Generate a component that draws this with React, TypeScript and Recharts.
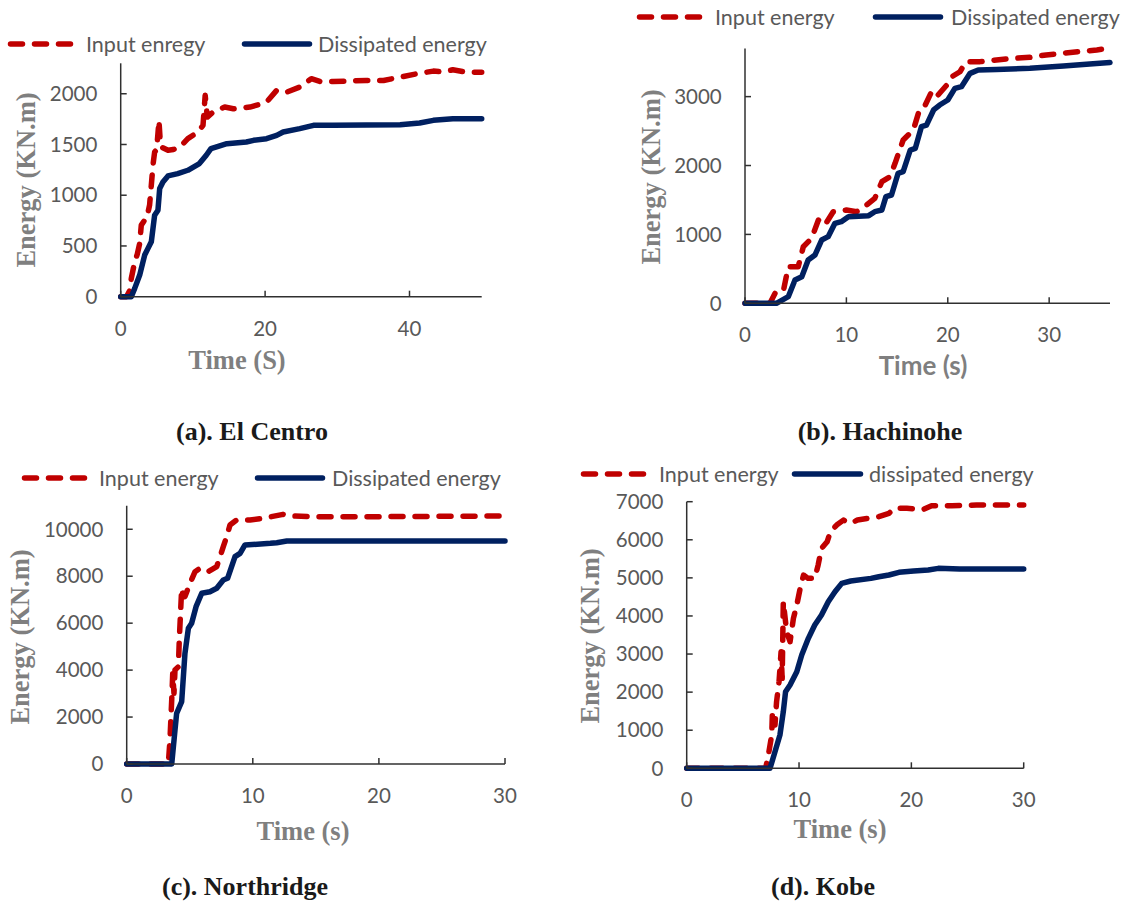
import React from 'react';
import { LineChart, Line, XAxis, YAxis, Legend } from 'recharts';

type Pt = { t: number; e: number };
const pts = (a: number[][]): Pt[] => a.map(([t, e]) => ({ t, e }));

// ---------- (a) El Centro ----------
const elCentroInput = pts([
  [0, 0], [0.8, 0], [1.24, 60], [1.47, 181], [1.94, 344], [2.3, 420], [2.63, 525], [2.85, 705],
  [3.32, 754], [3.6, 770], [4.0, 902], [4.24, 1099], [4.47, 1296], [4.7, 1426], [4.98, 1450],
  [5.15, 1600], [5.3, 1738], [5.45, 1560], [5.62, 1475], [6.55, 1443], [7.3, 1450], [8.2, 1475],
  [9.3, 1558], [10.7, 1623], [11.4, 1689], [11.7, 1984], [12.0, 1770], [12.8, 1820], [14.4, 1869],
  [15.6, 1852], [17.9, 1869], [19.5, 1900], [20.2, 1918], [21.6, 2033], [23.0, 2016], [24.8, 2066],
  [26.4, 2148], [27.6, 2121], [29.4, 2121], [34.0, 2131], [36.4, 2131], [38.7, 2164], [41.0, 2197],
  [43.3, 2223], [44.7, 2215], [46.0, 2236], [47.9, 2213], [50, 2213],
]);
const elCentroDissipated = pts([
  [0, 0], [1.47, 0], [1.94, 82], [2.63, 213], [3.32, 410], [3.78, 476], [4.24, 541], [4.7, 803],
  [5.16, 853], [5.4, 1066], [5.85, 1131], [6.55, 1190], [7.9, 1213], [9.3, 1246], [10.9, 1312],
  [11.85, 1394], [12.5, 1459], [13.5, 1482], [14.7, 1508], [17.4, 1525], [18.4, 1541], [20.2, 1557],
  [21.6, 1590], [22.5, 1623], [24.8, 1656], [26.7, 1689], [29.4, 1689], [38.7, 1695], [41.4, 1711],
  [43.3, 1738], [46, 1754], [50, 1754],
]);
const elCentroXTicks = [0, 20, 40];
const elCentroYTicks = [0, 500, 1000, 1500, 2000];

// ---------- (b) Hachinohe ----------
const hachinoheInput = pts([
  [0, 0], [2.46, 0], [2.96, 145], [3.77, 169], [4.27, 531], [5.25, 531], [5.75, 821], [6.57, 943],
  [7.24, 1209], [7.88, 1136], [8.7, 1330], [10.0, 1354], [11.0, 1330], [12.0, 1427], [12.8, 1524],
  [13.5, 1765], [14.3, 1838], [14.8, 2032], [15.6, 2370], [16.6, 2515], [17.2, 2806], [17.7, 2854],
  [18.4, 3071], [18.9, 2999], [19.9, 3168], [20.4, 3289], [21.2, 3361], [21.8, 3507], [23.2, 3508],
  [24.8, 3532], [26.45, 3557], [28.1, 3571], [29.7, 3605], [31.4, 3629], [33.0, 3653], [34.7, 3678],
  [35.2, 3687],
]);
const hachinoheDissipated = pts([
  [0, 0], [3.1, 0], [4.27, 96], [4.93, 338], [5.6, 386], [6.23, 628], [6.9, 701], [7.56, 918],
  [8.2, 967], [8.87, 1161], [9.5, 1185], [10.2, 1257], [12.2, 1272], [12.8, 1330], [13.5, 1354],
  [13.9, 1548], [14.45, 1572], [15.1, 1887], [15.6, 1911], [16.3, 2225], [16.8, 2249], [17.4, 2563],
  [17.9, 2587], [18.6, 2806], [19.2, 2878], [20.0, 2951], [20.7, 3120], [21.35, 3144], [22.2, 3338],
  [23.0, 3386], [24.8, 3395], [28.1, 3411], [31.4, 3445], [34.0, 3474], [36, 3494],
]);
const hachinoheXTicks = [0, 10, 20, 30];
const hachinoheYTicks = [0, 1000, 2000, 3000];

// ---------- (c) Northridge ----------
const northridgeInput = pts([
  [0, 0], [3.3, 0], [3.43, 1023], [3.57, 2727], [3.65, 3864], [3.75, 3010], [3.83, 4005], [4.1, 4146],
  [4.17, 5283], [4.28, 6562], [4.36, 7486], [4.5, 7128], [4.62, 7130], [5.02, 7699], [5.42, 8194],
  [5.81, 8337], [6.47, 8194], [7.14, 8407], [7.4, 8833], [7.66, 9259], [7.93, 9685], [8.19, 10183],
  [8.72, 10396], [9.78, 10396], [10.8, 10467], [12.4, 10636], [13.2, 10565], [15.1, 10536],
  [19.0, 10536], [30, 10565],
]);
const northridgeDissipated = pts([
  [0, 0], [3.57, 0], [3.83, 1449], [3.96, 2160], [4.36, 2655], [4.62, 4717], [4.89, 5782],
  [5.15, 5995], [5.5, 6702], [5.95, 7273], [6.6, 7341], [7.14, 7486], [7.66, 7840], [8.0, 7911],
  [8.59, 8833], [8.99, 8975], [9.38, 9331], [11.4, 9400], [11.9, 9429], [12.7, 9500], [30, 9500],
]);
const northridgeXTicks = [0, 10, 20, 30];
const northridgeYTicks = [0, 2000, 4000, 6000, 8000, 10000];

// ---------- (d) Kobe ----------
const kobeInput = pts([
  [0, 0], [7.03, 0], [7.27, 349], [7.57, 874], [7.63, 1486], [7.86, 1137], [8.0, 1748], [8.22, 2273],
  [8.4, 3060], [8.5, 2362], [8.6, 4373], [8.9, 3585], [9.2, 3323], [9.5, 3937], [9.8, 4286],
  [10.1, 4724], [10.4, 5073], [10.8, 4987], [11.4, 4987], [11.7, 5336], [12.0, 5774], [12.5, 5948],
  [12.8, 6210], [13.35, 6386], [13.95, 6517], [14.6, 6431], [15.2, 6519], [16.1, 6562], [17.1, 6606],
  [18.0, 6694], [18.5, 6825], [19.6, 6825], [21.1, 6800], [21.8, 6895], [23.6, 6895], [25.8, 6912],
  [30, 6912],
]);
const kobeDissipated = pts([
  [0, 0], [7.42, 0], [7.86, 436], [8.3, 874], [8.6, 1486], [8.8, 2011], [9.2, 2186], [9.8, 2535],
  [10.24, 2974], [10.83, 3412], [11.4, 3761], [12.0, 4024], [12.6, 4373], [13.2, 4635], [13.8, 4856],
  [14.6, 4917], [16.4, 4987], [17.1, 5031], [18.0, 5075], [18.9, 5145], [20.2, 5180], [21.5, 5206],
  [22.4, 5250], [24.3, 5232], [30, 5232],
]);
const kobeXTicks = [0, 10, 20, 30];
const kobeYTicks = [0, 1000, 2000, 3000, 4000, 5000, 6000, 7000];

// ---------- styling ----------
const SANS = "Lato, 'Open Sans', 'DejaVu Sans', sans-serif";
const SERIF = "'Liberation Serif', 'Times New Roman', serif";
const TICK_COLOR = '#595959';
const TITLE_COLOR = '#7f7f7f';
const AXIS_COLOR = '#303030';
const RED = '#C00000';
const BLUE = '#002060';
const DASH = '12 12';
const LW = 5.5;
const XH = 60;

type Panel = {
  box: { left: number; top: number; w: number; h: number };
  plot: { l: number; r: number; t: number; b: number };
  xDomain: number[];
  xTicks: number[];
  yDomain: number[];
  yTicks: number[];
  input: Pt[];
  diss: Pt[];
  inputName: string;
  dissName: string;
  legend: { y: number; items: { x1: number; x2: number; tx: number }[] };
  xTitle: { text: string; x: number; y: number; serif: boolean };
  yTitle: { x: number; y: number };
  caption: { text: string; x: number; y: number };
};

const panels: Panel[] = [
  {
    box: { left: 0, top: 0, w: 560, h: 455 },
    plot: { l: 120.7, r: 481.7, t: 63.3, b: 296.7 },
    xDomain: [0, 50], xTicks: elCentroXTicks, yDomain: [0, 2300], yTicks: elCentroYTicks,
    input: elCentroInput, diss: elCentroDissipated,
    inputName: 'Input enregy', dissName: 'Dissipated energy',
    legend: { y: 44, items: [{ x1: 8, x2: 80, tx: 86 }, { x1: 242, x2: 312, tx: 318 }] },
    xTitle: { text: 'Time (S)', x: 237, y: 369, serif: true },
    yTitle: { x: 35, y: 180 },
    caption: { text: '(a). El Centro', x: 252, y: 440 },
  },
  {
    box: { left: 563, top: 0, w: 564, h: 455 },
    plot: { l: 745, r: 1110, t: 48.4, b: 303.3 },
    xDomain: [0, 36], xTicks: hachinoheXTicks, yDomain: [0, 3700], yTicks: hachinoheYTicks,
    input: hachinoheInput, diss: hachinoheDissipated,
    inputName: 'Input energy', dissName: 'Dissipated energy',
    legend: { y: 17, items: [{ x1: 637, x2: 708, tx: 715 }, { x1: 873, x2: 943, tx: 951 }] },
    xTitle: { text: 'Time (s)', x: 923, y: 375, serif: false },
    yTitle: { x: 660, y: 177 },
    caption: { text: '(b). Hachinohe', x: 880, y: 440 },
  },
  {
    box: { left: 0, top: 455, w: 563, h: 452 },
    plot: { l: 126.7, r: 505, t: 505.8, b: 764 },
    xDomain: [0, 30], xTicks: northridgeXTicks, yDomain: [0, 11000], yTicks: northridgeYTicks,
    input: northridgeInput, diss: northridgeDissipated,
    inputName: 'Input energy', dissName: 'Dissipated energy',
    legend: { y: 478, items: [{ x1: 22, x2: 93, tx: 99 }, { x1: 255, x2: 325, tx: 332 }] },
    xTitle: { text: 'Time (s)', x: 303, y: 840, serif: true },
    yTitle: { x: 28.5, y: 637 },
    caption: { text: '(c). Northridge', x: 245, y: 895 },
  },
  {
    box: { left: 563, top: 455, w: 564, h: 452 },
    plot: { l: 686.7, r: 1023.7, t: 501.7, b: 768.3 },
    xDomain: [0, 30], xTicks: kobeXTicks, yDomain: [0, 7000], yTicks: kobeYTicks,
    input: kobeInput, diss: kobeDissipated,
    inputName: 'Input energy', dissName: 'dissipated energy',
    legend: { y: 474, items: [{ x1: 581, x2: 653, tx: 659 }, { x1: 792, x2: 863, tx: 869 }] },
    xTitle: { text: 'Time (s)', x: 840, y: 838, serif: true },
    yTitle: { x: 599, y: 636 },
    caption: { text: '(d). Kobe', x: 823, y: 895 },
  },
];

const seriesStyle = [
  { stroke: RED, strokeDasharray: DASH as string | undefined },
  { stroke: BLUE, strokeDasharray: undefined as string | undefined },
];

function EnergyPanel({ p }: { p: Panel }) {
  const { box, plot } = p;
  const ox = box.left;
  const oy = box.top;
  const margin = {
    top: plot.t - oy,
    right: ox + box.w - plot.r,
    bottom: oy + box.h - plot.b - XH,
    left: 0,
  };
  const yW = plot.l - ox;
  const tickStyle = { fill: TICK_COLOR, fontSize: 20.5, fontFamily: SANS };

  const legendContent = (props: any) => {
    const payload: any[] = props.payload || [];
    return (
      <svg width={box.w} height={30} style={{ display: 'block', overflow: 'visible' }}>
        {payload.map((entry: any) => {
          const i = entry.value === p.inputName ? 0 : 1;
          const it = p.legend.items[i];
          const st = seriesStyle[i];
          return (
            <g key={entry.value}>
              <line
                x1={it.x1 - ox + 2.5}
                x2={it.x2 - ox - 2.5}
                y1={15}
                y2={15}
                stroke={st.stroke}
                strokeWidth={LW}
                strokeDasharray={st.strokeDasharray}
                strokeLinecap="round"
              />
              <text
                x={it.tx - ox}
                y={15}
                dy="0.36em"
                fill={TICK_COLOR}
                fontSize={21.5}
                fontFamily={SANS}
              >
                {entry.value}
              </text>
            </g>
          );
        })}
      </svg>
    );
  };

  const xLabel = () => (
    <g>
      <text
        x={p.xTitle.x - ox}
        y={p.xTitle.y - oy}
        textAnchor="middle"
        fill={TITLE_COLOR}
        fontSize={p.xTitle.serif ? 26.5 : 26}
        fontWeight="bold"
        fontFamily={p.xTitle.serif ? SERIF : SANS}
      >
        {p.xTitle.text}
      </text>
      <text
        x={p.caption.x - ox}
        y={p.caption.y - oy}
        textAnchor="middle"
        fill="#1a1a1a"
        fontSize={26}
        fontWeight="bold"
        fontFamily={SERIF}
      >
        {p.caption.text}
      </text>
    </g>
  );

  const yLabel = () => (
    <text
      transform={`translate(${p.yTitle.x - ox},${p.yTitle.y - oy}) rotate(-90)`}
      textAnchor="middle"
      fill={TITLE_COLOR}
      fontSize={26.5}
      fontWeight="bold"
      fontFamily={SERIF}
    >
      Energy (KN.m)
    </text>
  );

  return (
    <div style={{ position: 'absolute', left: ox, top: oy, width: box.w, height: box.h }}>
      <LineChart width={box.w} height={box.h} margin={margin}>
        <XAxis
          type="number"
          dataKey="t"
          domain={p.xDomain}
          ticks={p.xTicks}
          interval={0}
          height={XH}
          tickSize={-6}
          tickMargin={30.5}
          axisLine={{ stroke: AXIS_COLOR, strokeWidth: 1.5 }}
          tickLine={{ stroke: AXIS_COLOR, strokeWidth: 1.5 }}
          tick={tickStyle}
          label={xLabel}
        />
        <YAxis
          type="number"
          domain={p.yDomain}
          ticks={p.yTicks}
          interval={0}
          width={yW}
          tickSize={-6}
          tickMargin={29.3}
          axisLine={{ stroke: AXIS_COLOR, strokeWidth: 1.5 }}
          tickLine={{ stroke: AXIS_COLOR, strokeWidth: 1.5 }}
          tick={tickStyle}
          label={yLabel}
        />
        <Legend
          layout="horizontal"
          verticalAlign="middle"
          align="center"
          content={legendContent}
          wrapperStyle={{ top: p.legend.y - oy - 15, left: 0, width: box.w, height: 30 }}
        />
        <Line
          data={p.input}
          dataKey="e"
          name={p.inputName}
          type="linear"
          stroke={RED}
          strokeWidth={LW}
          strokeDasharray={DASH}
          strokeLinecap="round"
          strokeLinejoin="round"
          dot={false}
          activeDot={false}
          isAnimationActive={false}
        />
        <Line
          data={p.diss}
          dataKey="e"
          name={p.dissName}
          type="linear"
          stroke={BLUE}
          strokeWidth={LW}
          strokeLinecap="round"
          strokeLinejoin="round"
          dot={false}
          activeDot={false}
          isAnimationActive={false}
        />
      </LineChart>
    </div>
  );
}

export default function App() {
  return (
    <div style={{ position: 'absolute', left: 0, top: 0, width: 1127, height: 907, background: '#fff' }}>
      {panels.map((p, i) => (
        <EnergyPanel key={i} p={p} />
      ))}
    </div>
  );
}
